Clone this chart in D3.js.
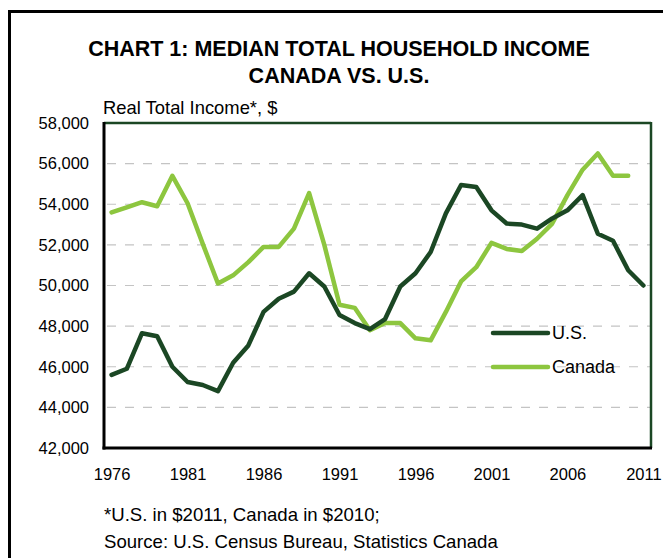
<!DOCTYPE html>
<html>
<head>
<meta charset="utf-8">
<script src="https://cdn.jsdelivr.net/npm/d3@7"></script>
<style>
  body { margin: 0; background: #fff; }
  text { font-family: "Liberation Sans", Arial, sans-serif; fill: #000; }
</style>
</head>
<body>
<div id="chart"></div>
<script>
'use strict';

// data
const years = d3.range(1976, 2012);
const usIncome = [
	45600, 45900, 47650, 47500, 46000, 45250, 45100, 44800, 46200, 47050,
	48700, 49350, 49700, 50600, 49950, 48550, 48150, 47850, 48350, 49950,
	50600, 51650, 53550, 54950, 54850, 53700, 53050, 53000, 52800, 53300,
	53700, 54450, 52550, 52200, 50750, 50000
];
const canadaIncome = [
	53600, 53850, 54100, 53900, 55400, 54050, 52050, 50100, 50500, 51150,
	51900, 51900, 52800, 54550, 52000, 49050, 48900, 47800, 48150, 48150,
	47400, 47300, 48700, 50200, 50900, 52100, 51800, 51700, 52300, 53050,
	54450, 55700, 56500, 55400, 55400
];
const yTicks = [42000, 44000, 46000, 48000, 50000, 52000, 54000, 56000, 58000];
const xTickYears = [1976, 1981, 1986, 1991, 1996, 2001, 2006, 2011];
const seriesNames = ['U.S.', 'Canada'];

const width = 663, height = 558;
const plot = {left: 104, right: 651, top: 123, bottom: 448};
const usColor = '#1b4724';
const caColor = '#8dc63f';

const svg = d3.select('#chart').append('svg')
	.attr('width', width)
	.attr('height', height);

// outer frame (runs off the right and bottom edges)
svg.append('rect')
	.attr('x', 9.5).attr('y', 11.5)
	.attr('width', 700).attr('height', 600)
	.attr('fill', 'none')
	.attr('stroke', '#000')
	.attr('stroke-width', 3);

// titles
svg.append('text')
	.attr('x', 339).attr('y', 56)
	.attr('text-anchor', 'middle')
	.style('font-size', '21.5px').style('font-weight', 'bold')
	.text('CHART 1: MEDIAN TOTAL HOUSEHOLD INCOME');
svg.append('text')
	.attr('x', 339).attr('y', 83)
	.attr('text-anchor', 'middle')
	.style('font-size', '21.5px').style('font-weight', 'bold')
	.text('CANADA VS. U.S.');
svg.append('text')
	.attr('x', 103).attr('y', 114)
	.style('font-size', '18.4px')
	.text('Real Total Income*, $');

const x = d3.scalePoint()
	.domain(years)
	.range([plot.left, plot.right])
	.padding(0.5);
const y = d3.scaleLinear()
	.domain([42000, 58000])
	.range([plot.bottom, plot.top]);

// grid lines
svg.append('g').selectAll('line')
	.data(yTicks.filter(d => d > 42000 && d < 58000))
	.join('line')
	.attr('x1', plot.left).attr('x2', plot.right)
	.attr('y1', d => y(d)).attr('y2', d => y(d))
	.attr('stroke', '#c4c4c4')
	.attr('stroke-width', 1.2)
	.attr('stroke-dasharray', '9,9')
	.attr('stroke-dashoffset', -3);

// y axis labels
const yAxis = d3.axisLeft(y)
	.tickValues(yTicks)
	.tickFormat(d3.format(','))
	.tickSize(0)
	.tickPadding(15);
const yAxisG = svg.append('g')
	.attr('transform', `translate(${plot.left},0)`)
	.call(yAxis);
yAxisG.select('.domain').remove();
yAxisG.selectAll('text')
	.style('font-family', '"Liberation Sans", Arial, sans-serif')
	.style('font-size', '16.5px')
	.attr('fill', '#000');

// x axis labels
const xAxis = d3.axisBottom(x)
	.tickValues(xTickYears)
	.tickSize(0)
	.tickPadding(20);
const xAxisG = svg.append('g')
	.attr('transform', `translate(0,${plot.bottom})`)
	.call(xAxis);
xAxisG.select('.domain').remove();
xAxisG.selectAll('text')
	.style('font-family', '"Liberation Sans", Arial, sans-serif')
	.style('font-size', '16.5px')
	.attr('fill', '#000');

// plot border: top/right dark green, left/bottom black
svg.append('line')
	.attr('x1', plot.left).attr('x2', plot.right)
	.attr('y1', plot.top).attr('y2', plot.top)
	.attr('stroke', usColor).attr('stroke-width', 2.5);
svg.append('line')
	.attr('x1', plot.right).attr('x2', plot.right)
	.attr('y1', plot.top - 1).attr('y2', plot.bottom)
	.attr('stroke', usColor).attr('stroke-width', 2.5);
svg.append('line')
	.attr('x1', plot.left).attr('x2', plot.left)
	.attr('y1', plot.top - 1).attr('y2', plot.bottom + 1.5)
	.attr('stroke', '#000').attr('stroke-width', 3);
svg.append('line')
	.attr('x1', plot.left - 1.5).attr('x2', plot.right + 1)
	.attr('y1', plot.bottom).attr('y2', plot.bottom)
	.attr('stroke', '#000').attr('stroke-width', 3);

// lines
const line = d3.line()
	.x((d, i) => x(years[i]))
	.y(d => y(d));

svg.append('path')
	.datum(canadaIncome)
	.attr('d', line)
	.attr('fill', 'none')
	.attr('stroke', caColor)
	.attr('stroke-width', 4.5)
	.attr('stroke-linejoin', 'round')
	.attr('stroke-linecap', 'round');

svg.append('path')
	.datum(usIncome)
	.attr('d', line)
	.attr('fill', 'none')
	.attr('stroke', usColor)
	.attr('stroke-width', 4.5)
	.attr('stroke-linejoin', 'round')
	.attr('stroke-linecap', 'round');

// legend
const legend = svg.append('g')
	.selectAll('g')
	.data(seriesNames)
	.join('g')
	.attr('transform', (d, i) => `translate(493,${333 + i * 34})`);
legend.append('line')
	.attr('x1', 0).attr('x2', 55)
	.attr('stroke', (d, i) => i === 0 ? usColor : caColor)
	.attr('stroke-width', 4.5)
	.attr('stroke-linecap', 'round');
legend.append('text')
	.attr('x', 59).attr('dy', '0.36em')
	.style('font-size', '18px')
	.text(d => d);

// footnote
svg.append('text')
	.attr('x', 104).attr('y', 521)
	.style('font-size', '18.6px')
	.text('*U.S. in $2011, Canada in $2010;');
svg.append('text')
	.attr('x', 104).attr('y', 548)
	.style('font-size', '18.6px')
	.text('Source: U.S. Census Bureau, Statistics Canada');
</script>
</body>
</html>
